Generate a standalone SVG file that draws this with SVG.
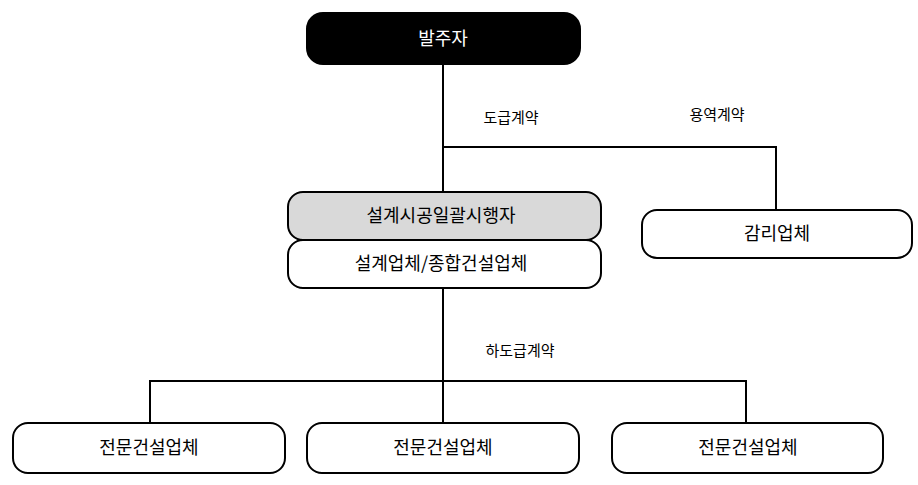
<svg xmlns="http://www.w3.org/2000/svg" width="918" height="485" viewBox="0 0 918 485">
<style>
.box{fill:#fff;stroke:#000;stroke-width:2}
.gray{fill:#d9d9d9;stroke:#000;stroke-width:2}
.dark{fill:#000;stroke:#000;stroke-width:2}
.t{font-family:"Noto Sans CJK KR","Noto Sans",sans-serif;font-size:18px;text-anchor:middle;fill:#000}
.w{fill:#fff}
.lbl{font-family:"Noto Sans CJK KR","Noto Sans",sans-serif;font-size:15px;text-anchor:middle;fill:#000}
.c{fill:none;stroke:#000;stroke-width:2}
</style>
<rect width="918" height="485" fill="#fff"/>
<g id="connectors">
<path class="c" d="M443 64V192"/>
<path class="c" d="M443 147H776V210"/>
<path class="c" d="M443 288V423"/>
<path class="c" d="M150 423V381H746V423"/>
</g>
<g id="labels">
<text class="lbl" x="511" y="123">도급계약</text>
<text class="lbl" x="717" y="120">용역계약</text>
<text class="lbl" x="520" y="356">하도급계약</text>
</g>
<g id="n-owner">
<rect class="dark" x="307" y="13" width="273" height="51" rx="16"/>
<text class="t w" x="443" y="45">발주자</text>
</g>
<g id="n-designbuild">
<rect class="gray" x="288" y="192" width="313" height="48" rx="15"/>
<text class="t" x="441" y="222">설계시공일괄시행자</text>
</g>
<g id="n-contractor">
<rect class="box" x="288" y="240" width="313" height="48" rx="15"/>
<text class="t" x="441" y="270">설계업체/종합건설업체</text>
</g>
<g id="n-supervision">
<rect class="box" x="642" y="210" width="270" height="48" rx="15"/>
<text class="t" x="777" y="240">감리업체</text>
</g>
<g id="n-sub1">
<rect class="box" x="13" y="423" width="272" height="50" rx="15"/>
<text class="t" x="149" y="454">전문건설업체</text>
</g>
<g id="n-sub2">
<rect class="box" x="307" y="423" width="272" height="50" rx="15"/>
<text class="t" x="443" y="454">전문건설업체</text>
</g>
<g id="n-sub3">
<rect class="box" x="612" y="423" width="271" height="50" rx="15"/>
<text class="t" x="748" y="454">전문건설업체</text>
</g>
</svg>
